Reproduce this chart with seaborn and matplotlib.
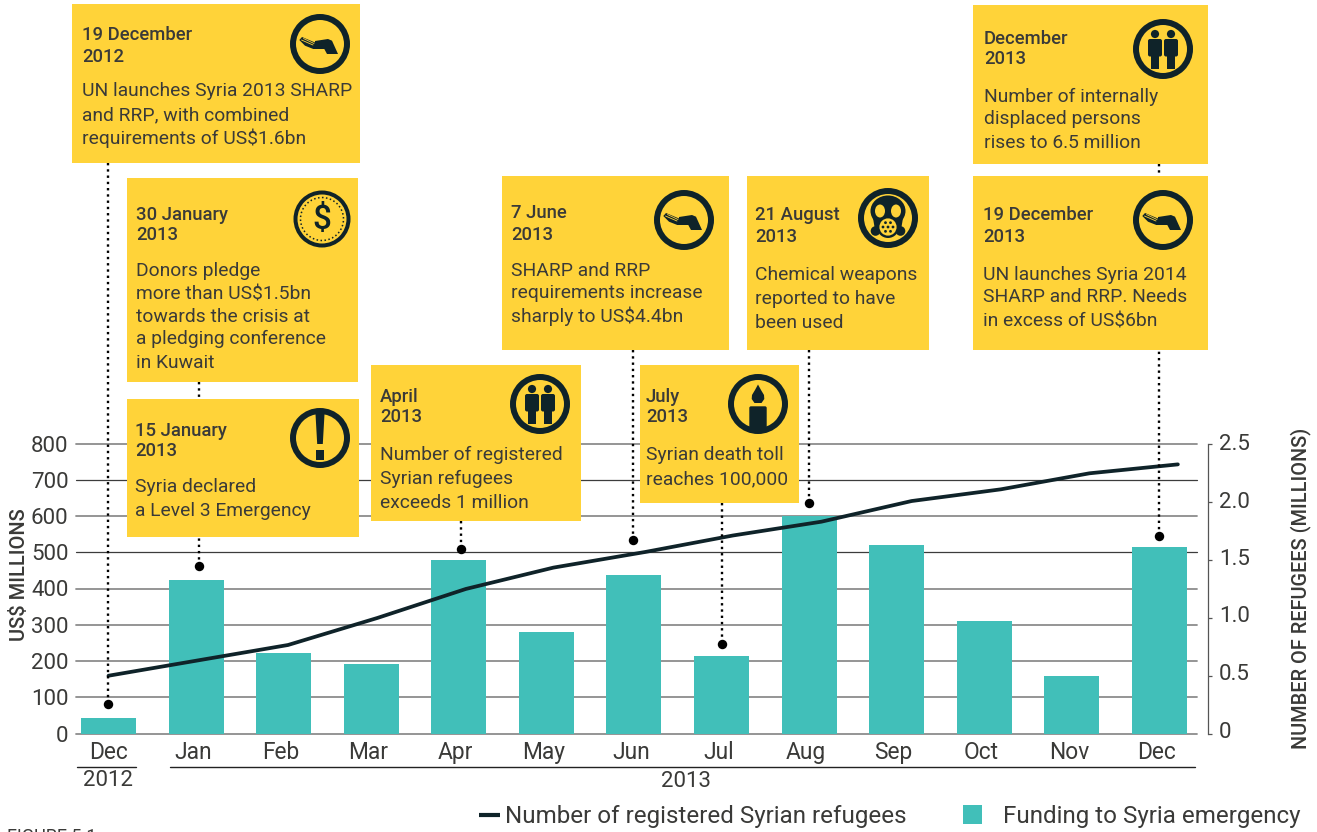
import numpy as np
import matplotlib
matplotlib.use("Agg")
import matplotlib.pyplot as plt
import seaborn as sns
from matplotlib.lines import Line2D
from matplotlib.patches import Circle, Ellipse, Patch, Polygon, Rectangle, FancyBboxPatch
from matplotlib.transforms import ScaledTranslation, IdentityTransform

# ---------- data ----------
months = ["Dec", "Jan", "Feb", "Mar", "Apr", "May", "Jun", "Jul", "Aug", "Sep", "Oct", "Nov", "Dec"]
funding = [43, 423, 222, 192, 479, 280, 437, 214, 600, 520, 310, 159, 514]
refugee_positions = [0, 1.02, 2.05, 3.07, 4.08, 5.08, 6.13, 7.13, 8.14, 9.17, 10.19, 11.2, 12.21]
refugees = [0.498, 0.63, 0.763, 0.996, 1.246, 1.43, 1.565, 1.707, 1.826, 2.004, 2.105, 2.243, 2.32]
left_ticks = [0, 100, 200, 300, 400, 500, 600, 700, 800]
right_ticks = [0, 0.5, 1.0, 1.5, 2.0, 2.5]
right_tick_labels = ["0", "0.5", "1.0", "1.5", "2.0", "2.5"]
marker_positions = [-0.01, 1.03, 4.02, 5.99, 7.0, 8.0, 12.0]
marker_values = [82, 461, 509, 534, 247, 637, 546]
marker_box_bottoms = [163, 382, 521, 350, 503, 350, 164]

box_dates = [
    "19 December\n2012", "30 January\n2013", "15 January\n2013", "April\n2013", "7 June\n2013",
    "July\n2013", "21 August\n2013", "December\n2013", "19 December\n2013",
]
box_texts = [
    ["UN launches Syria 2013 SHARP", "and RRP, with combined", "requirements of US$1.6bn"],
    ["Donors pledge", "more than US$1.5bn", "towards the crisis at", "a pledging conference", "in Kuwait"],
    ["Syria declared", "a Level 3 Emergency"],
    ["Number of registered", "Syrian refugees", "exceeds 1 million"],
    ["SHARP and RRP", "requirements increase", "sharply to US$4.4bn"],
    ["Syrian death toll", "reaches 100,000"],
    ["Chemical weapons", "reported to have", "been used"],
    ["Number of internally", "displaced persons", "rises to 6.5 million"],
    ["UN launches Syria 2014", "SHARP and RRP. Needs", "in excess of US$6bn"],
]

# ---------- layout (pixels, from the top-left corner) ----------
W, H = 1317, 832
box_rects = [
    (72, 4, 360, 163), (127, 178, 358, 382), (127, 399, 359, 537), (371, 365, 581, 521), (502, 176, 729, 350),
    (640, 365, 799, 503), (747, 176, 929, 350), (973, 5, 1208, 164), (973, 176, 1208, 350),
]
text_x = [82, 136, 135, 380, 511, 646, 755, 984, 983]
date_y = [(34, 55), (213, 234), (429, 450), (395, 416), (212, 234), (396, 416), (214, 236), (37, 57), (214, 235)]
body_y = [(90, 114, 138), (270, 293, 315, 338, 361), (486, 509), (454, 478, 502), (270, 292, 316),
          (454, 478), (273, 297, 321), (95, 118, 141), (273, 296, 320)]
icon_kind = ["hand", "dollar", "bang", "people", "hand", "candle", "mask", "people", "hand"]
icon_xy = [(320, 44), (322, 219), (320, 438), (540, 404), (684, 220), (758, 404), (888, 218), (1163, 49), (1163, 220)]
right_label_lift = [4, 3.7, 3.5, 2.3, 1.3, 1.3]

YELLOW = "#FFD339"
TEAL = "#41BFB9"
DARK = "#0F2329"
INK = "#3A3A38"
BASE = 6.5
BODY_PT = 13.85
DATE_PT = 13.3
TICK_PT = 16
LEGEND_PT = 17.4

sns.set_theme(style="white")
plt.rcParams["font.family"] = ["Roboto", "DejaVu Sans"]

fig = plt.figure(figsize=(W / 100, H / 100), dpi=100)
ax = fig.add_axes([76 / W, (H - 733.5) / H, 1121 / W, 290 / H])
positions = np.arange(len(months))

sns.barplot(x=positions, y=funding, native_scale=True, color=TEAL, saturation=1, width=0.628, ax=ax, zorder=2,
            edgecolor="none", linewidth=0)
ax.set_xlim((76 - 108.5) / 87.58, (1197 - 108.5) / 87.58)
ax.set_ylim(0, 800)
ax.set_yticks(left_ticks)
ax.set_xticks(positions)
ax.set_xticklabels(months)
ax.tick_params(axis="x", length=0, pad=5.3, labelsize=TICK_PT + 0.4, labelcolor=INK)
ax.tick_params(axis="y", length=0, pad=5.5, labelsize=TICK_PT, labelcolor=INK)
shift = ScaledTranslation(-3 / 100, 0, fig.dpi_scale_trans)
for lab in ax.get_xticklabels()[1:]:
    lab.set_transform(lab.get_transform() + shift)
ax.grid(axis="y", zorder=1)
ax.set_axisbelow(True)
for value, gl in zip(left_ticks, ax.get_ygridlines()):
    dark = value in (500, 700)
    gl.set_color("#3c3c3c" if dark else "#8c8c8c")
    gl.set_linewidth(0.9 if dark else 1.3)
    gl.set_clip_on(False)
for s in ax.spines.values():
    s.set_visible(False)
ax.set_ylabel("US$ MILLIONS", fontsize=14.4, color=INK, weight=500)
ax.yaxis.set_label_coords(29, H - 575, transform=IdentityTransform())
ax.set_xlabel("")

ax2 = ax.twinx()
sns.lineplot(x=refugee_positions, y=refugees, estimator=None, sort=False, color=DARK, linewidth=2.7,
             solid_capstyle="round", ax=ax2, zorder=4)
for name, s in ax2.spines.items():
    s.set_visible(name == "right")
ax2.spines["right"].set_position(("outward", 11 * 0.72))
ax2.spines["right"].set_color("#555555")
ax2.spines["right"].set_linewidth(0.9)
ax2.set_ylim(0, 2.5)
ax2.set_yticks(right_ticks)
ax2.set_yticklabels(right_tick_labels)
ax2.tick_params(axis="y", length=3, width=0.9, color="#555555", pad=5, labelsize=TICK_PT, labelcolor=INK)
for lab, lift_px in zip(ax2.get_yticklabels(), right_label_lift):
    lab.set_transform(lab.get_transform() + ScaledTranslation(0, lift_px / 100, fig.dpi_scale_trans))
ax2.set_ylabel("NUMBER OF REFUGEES (MILLIONS)", fontsize=14.3, color=INK, weight=500)
ax2.yaxis.set_label_coords(1290, H - 588, transform=IdentityTransform())

# overlay in pixel coordinates for callouts and annotations
ov = fig.add_axes([0, 0, 1, 1], zorder=10)
ov.set_xlim(0, W)
ov.set_ylim(H, 0)
ov.axis("off")


def to_overlay(x, y):
    return ov.transData.inverted().transform(ax.transData.transform((x, y)))


for px, val, bottom in zip(marker_positions, marker_values, marker_box_bottoms):
    mx, my = to_overlay(px, val)
    ov.plot([mx, mx], [bottom, my], color="black", lw=1.7, dashes=(1.0, 1.65), zorder=2, dash_capstyle="butt")
    ov.plot([mx], [my], "o", color="black", ms=6.8, mew=0, zorder=3)


def ring(x, y, r=30, w=6):
    ov.add_patch(Circle((x, y), r - w / 2, fc="none", ec=DARK, lw=w * 0.72, zorder=6))


def poly(x, y, pts, color=DARK):
    ov.add_patch(Polygon([(x + a, y + b) for a, b in pts], closed=True, fc=color, ec="none", zorder=6))


def icon(kind, x, y):
    if kind == "dollar":
        ring(x, y, 28.5, 4)
        ov.add_patch(Circle((x, y), 21.5, fc="none", ec=DARK, lw=1.1, ls=(0, (1, 1.6)), zorder=6))
        ov.text(x, y + 1, "$", ha="center", va="center", fontsize=24, weight=500, color=DARK, zorder=7)
        return
    ring(x, y)
    if kind == "hand":
        poly(x, y, [(-20.7, -4), (-18, -7), (-5, -1.5), (-5, -3), (8, -5), (12, -3.3), (18, 10), (7, 10),
                    (4.3, 5), (-6.7, 5), (-15, 1.7)])
        ov.plot([x - 18.5, x - 7], [y - 4, y + 1], color=YELLOW, lw=0.6, zorder=7)
        ov.plot([x - 16.5, x - 6], [y - 5.5, y - 0.5], color=YELLOW, lw=0.6, zorder=7)
    elif kind == "people":
        for dx in (-8, 8):
            ov.add_patch(Circle((x + dx, y - 15), 4.1, fc=DARK, ec="none", zorder=6))
            ov.add_patch(FancyBboxPatch((x + dx - 5, y - 8), 10, 13.5, boxstyle="round,pad=2", fc=DARK, ec="none", zorder=6))
            ov.add_patch(Rectangle((x + dx - 4, y + 5), 8, 15, fc=DARK, ec="none", zorder=6))
    elif kind == "bang":
        poly(x, y, [(-4.5, -24), (4.5, -24), (2.8, 6), (-2.8, 6)])
        ov.add_patch(Rectangle((x - 4.2, y + 12), 8.4, 10, fc=DARK, ec="none", zorder=6))
    elif kind == "candle":
        poly(x, y, [(0, -19.5), (3, -14), (6, -9), (6.3, -5), (3.5, -1), (-3.5, -1), (-6.3, -5), (-6, -9), (-3, -14)])
        ov.add_patch(FancyBboxPatch((x - 7, y + 4), 14, 22, boxstyle="round,pad=1.7", fc=DARK, ec="none", zorder=5.5))
    elif kind == "mask":
        ov.add_patch(Ellipse((x, y - 7), 35, 31, fc=DARK, ec="none", zorder=6))
        poly(x, y, [(-15, 0), (15, 0), (13, 12), (-13, 12)])
        for dx in (-12.5, 12.5):
            ov.add_patch(Circle((x + dx, y + 13), 4.8, fc=DARK, ec="none", zorder=6))
        for dx in (-8, 8):
            ov.add_patch(Ellipse((x + dx, y - 7), 10, 13, fc=YELLOW, ec="none", zorder=7))
        ov.add_patch(Circle((x, y + 9), 11, fc=DARK, ec="none", zorder=7))
        ov.add_patch(Circle((x, y + 9), 8.6, fc=YELLOW, ec="none", zorder=7.1))
        for a in np.arange(0, 360, 60):
            ov.add_patch(Circle((x + 5 * np.cos(np.radians(a)), y + 9 + 5 * np.sin(np.radians(a))), 1.4, fc=DARK, ec="none", zorder=7.2))
        ov.add_patch(Circle((x, y + 9), 1.4, fc=DARK, ec="none", zorder=7.2))


for rect, date, lines, tx, dy, by, kind, ixy in zip(box_rects, box_dates, box_texts, text_x, date_y, body_y, icon_kind, icon_xy):
    x0, y0, x1, y1 = rect
    ov.add_patch(Rectangle((x0, y0), x1 - x0, y1 - y0, fc=YELLOW, ec="none", zorder=5))
    for part, yy in zip(date.split("\n"), dy):
        ov.text(tx, yy + BASE, part, fontsize=DATE_PT, weight=500, color=INK, va="baseline", zorder=7)
    for part, yy in zip(lines, by):
        ov.text(tx, yy + BASE, part, fontsize=BODY_PT, color=INK, va="baseline", zorder=7)
    icon(kind, *ixy)

# year brackets
ov.plot([77, 136], [767, 767], color="#222222", lw=1, zorder=2)
ov.plot([170, 1195], [767, 767], color="#222222", lw=1, zorder=2)
ov.text(108, 781, "2012", ha="center", va="center", fontsize=TICK_PT, color=INK)
ov.text(686, 781.5, "2013", ha="center", va="center", fontsize=TICK_PT, color=INK)
ov.text(7, 842, "FIGURE 5.1", fontsize=13, color=INK, va="baseline", clip_on=True)

# legends
leg1 = fig.legend(handles=[Line2D([0], [0], color=DARK, lw=3, solid_capstyle="butt", label="Number of registered Syrian refugees")],
                  loc="center left", bbox_to_anchor=(479 / W, (H - 816.5) / H), frameon=False, fontsize=LEGEND_PT,
                  handlelength=0.87, handletextpad=0.22, borderpad=0, borderaxespad=0, labelcolor=INK)
leg2 = fig.legend(handles=[Patch(fc=TEAL, ec="none", label="Funding to Syria emergency")],
                  loc="center left", bbox_to_anchor=(963 / W, (H - 816.5) / H), frameon=False, fontsize=LEGEND_PT,
                  handlelength=0.79, handleheight=0.79, handletextpad=0.85, borderpad=0, borderaxespad=0, labelcolor=INK)

fig.savefig("out.png", dpi=100)
